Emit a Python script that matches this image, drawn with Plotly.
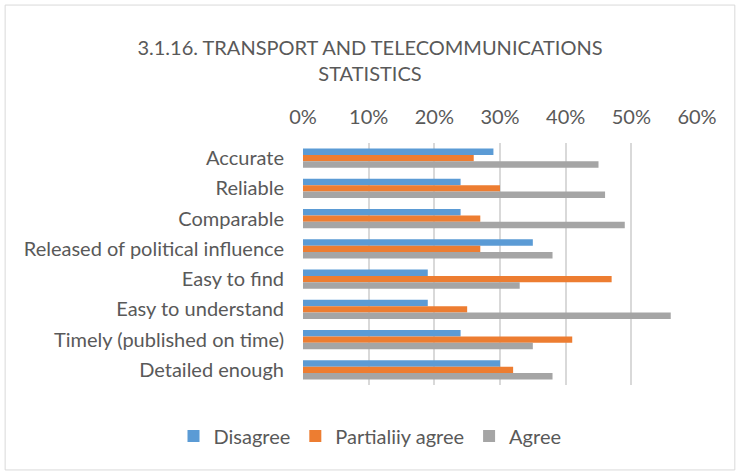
import plotly.graph_objects as go

categories = ["Accurate", "Reliable", "Comparable", "Released of political influence",
              "Easy to find", "Easy to understand", "Timely (published on time)", "Detailed enough"]
disagree = [0.29, 0.24, 0.24, 0.35, 0.19, 0.19, 0.24, 0.30]
partially = [0.26, 0.30, 0.27, 0.27, 0.47, 0.25, 0.41, 0.32]
agree = [0.45, 0.46, 0.49, 0.38, 0.33, 0.56, 0.35, 0.38]
series_names = ["Disagree", "Partialiiy agree", "Agree"]
colors = ["#5B9BD5", "#ED7D31", "#A5A5A5"]
x_ticks = [0, 0.1, 0.2, 0.3, 0.4, 0.5, 0.6]

fig = go.Figure()
for name, vals, col in zip(series_names, [disagree, partially, agree], colors):
    fig.add_trace(go.Bar(y=categories, x=vals, name=name, orientation="h",
                         marker=dict(color=col, line=dict(width=0))))

font_fam = "Lato, Calibri, sans-serif"
fig.update_layout(
    width=740, height=474,
    barmode="group", bargap=0.37, bargroupgap=0,
    paper_bgcolor="white", plot_bgcolor="white",
    margin=dict(l=303, r=43, t=143, b=89, autoexpand=False),
    font=dict(family=font_fam, color="#595959", size=20),
    title=dict(text="3.1.16. TRANSPORT AND TELECOMMUNICATIONS<br>STATISTICS",
               x=0.5, xref="container", xanchor="center", y=0.883, yref="container", yanchor="top",
               font=dict(size=20, color="#595959", family=font_fam)),
    xaxis=dict(side="top", range=[0, 0.6], tickvals=x_ticks, tickformat=".0%",
               showgrid=True, gridcolor="#D9D9D9", gridwidth=1.5, zeroline=False,
               showline=False, ticks="", automargin=False, ticklabelstandoff=14,
               tickfont=dict(size=20, color="#595959")),
    yaxis=dict(autorange="reversed", showgrid=False, zeroline=False, showline=False,
               ticks="", ticklabelstandoff=18, automargin=False,
               tickfont=dict(size=20, color="#595959")),
    legend=dict(orientation="h", x=0.5, xref="container", xanchor="center",
                y=0.08, yref="container", yanchor="middle",
                font=dict(size=20, color="#595959"), itemwidth=30, traceorder="normal"),
    shapes=[dict(type="rect", xref="paper", yref="paper",
                 x0=-0.756, x1=1.096, y0=-0.351, y1=1.570,
                 line=dict(color="#D9D9D9", width=1), fillcolor="rgba(0,0,0,0)", layer="below")],
)
fig.write_html("out.html", config={"displayModeBar": False},
               post_script="document.body.style.margin='0';document.body.style.overflow='hidden';")
